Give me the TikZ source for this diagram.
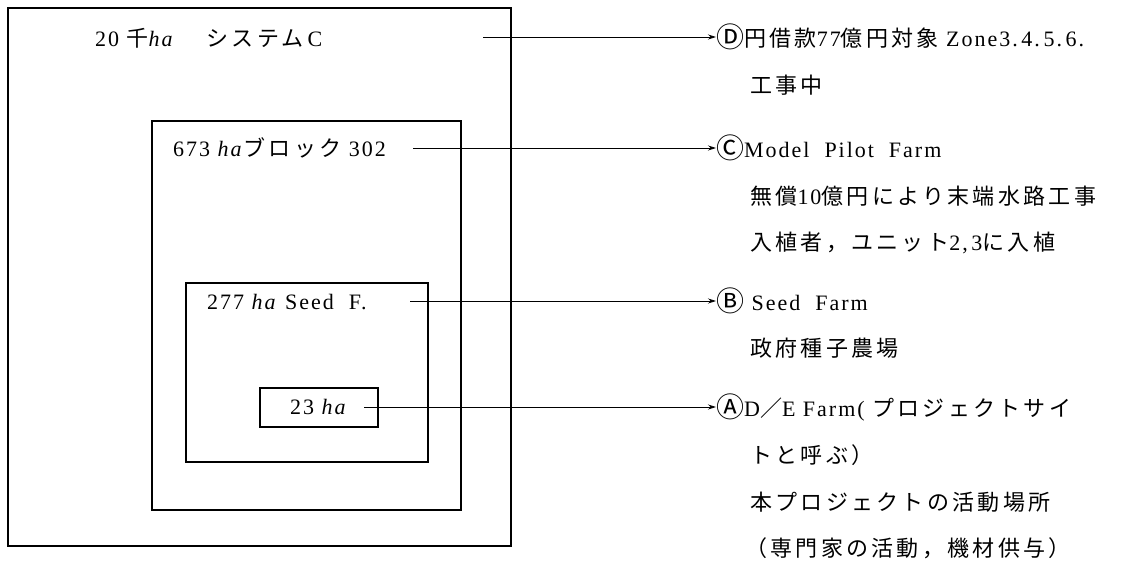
\documentclass[tikz,border=0pt]{standalone}
\usepackage{fontspec}
\setmainfont{Liberation Serif}[LetterSpace=9]
\newfontfamily\jp[LetterSpace=15]{Noto Sans CJK JP}
\newfontfamily\jpc{Noto Sans CJK JP}
\usetikzlibrary{arrows.meta}
\newcommand{\ha}{\textit{ha}}
\newcommand{\cl}[1]{{\jpc\fontsize{28}{28}\selectfont\raisebox{-1pt}{#1}}}
\begin{document}
\begin{tikzpicture}[x=1pt,y=-1pt,
  box/.style={draw=black,line width=1.2pt},
  lbl/.style={anchor=west,inner sep=0pt,font=\fontsize{22}{26}\selectfont},
  conn/.style={line width=0.8pt,-{Stealth[length=8pt,width=5pt]}}]
\useasboundingbox (0,0) rectangle (1132,580);
% nested boxes
\draw[box] (8,8) rectangle (511,546);
\draw[box] (152,121) rectangle (461,510);
\draw[box] (186,283) rectangle (428,462);
\draw[box] (260,388) rectangle (378,427);
% box labels
\node[lbl] (t1) at (95,38) {20 {\jp 千}\ha\hspace{32pt}{\jp システム}\,C};
\node[lbl] (t2) at (173,148) {673 \ha{\jp ブロック} 302};
\node[lbl] (t3) at (207,302) {277 \ha\ Seed\ \ F.};
\node[lbl] (t4) at (290,407) {23 \ha};
% arrow starts
\coordinate (s1) at (483,37);
\coordinate (s2) at (413,148);
\coordinate (s3) at (410,301);
\coordinate (s4) at (364,407);
% right texts
\node[lbl] (r1) at (716,37) {\cl{Ⓓ}{\jp 円借款}77{\jp 億円対象} Zone3.\,4.\,5.\,6.};
\node[lbl] (r1b) at (750,85) {\jp 工事中};
\node[lbl] (r2) at (716,148) {\cl{Ⓒ}Model\ \ Pilot\ \ Farm};
\node[lbl] (r2b) at (750,196) {{\jp 無償}10{\jp 億円により末端水路工事}};
\node[lbl] (r2c) at (750,243) {{\jp 入植者，ユニット}2,\,3{\jp に入植}};
\node[lbl] (r3) at (716,301) {\cl{Ⓑ} Seed\ \ Farm};
\node[lbl] (r3b) at (750,348) {\jp 政府種子農場};
\node[lbl] (r4) at (716,407) {\cl{Ⓐ}D{\jp ／}E Farm( {\jp プロジェクトサイ}};
\node[lbl] (r4b) at (750,455) {\jp トと呼ぶ）};
\node[lbl] (r4c) at (750,502) {\jp 本プロジェクトの活動場所};
\node[lbl] (r4d) at (745,548) {\jp （専門家の活動，機材供与）};
% connectors
\draw[conn] (s1) -- (r1.west);
\draw[conn] (s2) -- (r2.west);
\draw[conn] (s3) -- (r3.west);
\draw[conn] (s4) -- (r4.west);
\end{tikzpicture}
\end{document}
